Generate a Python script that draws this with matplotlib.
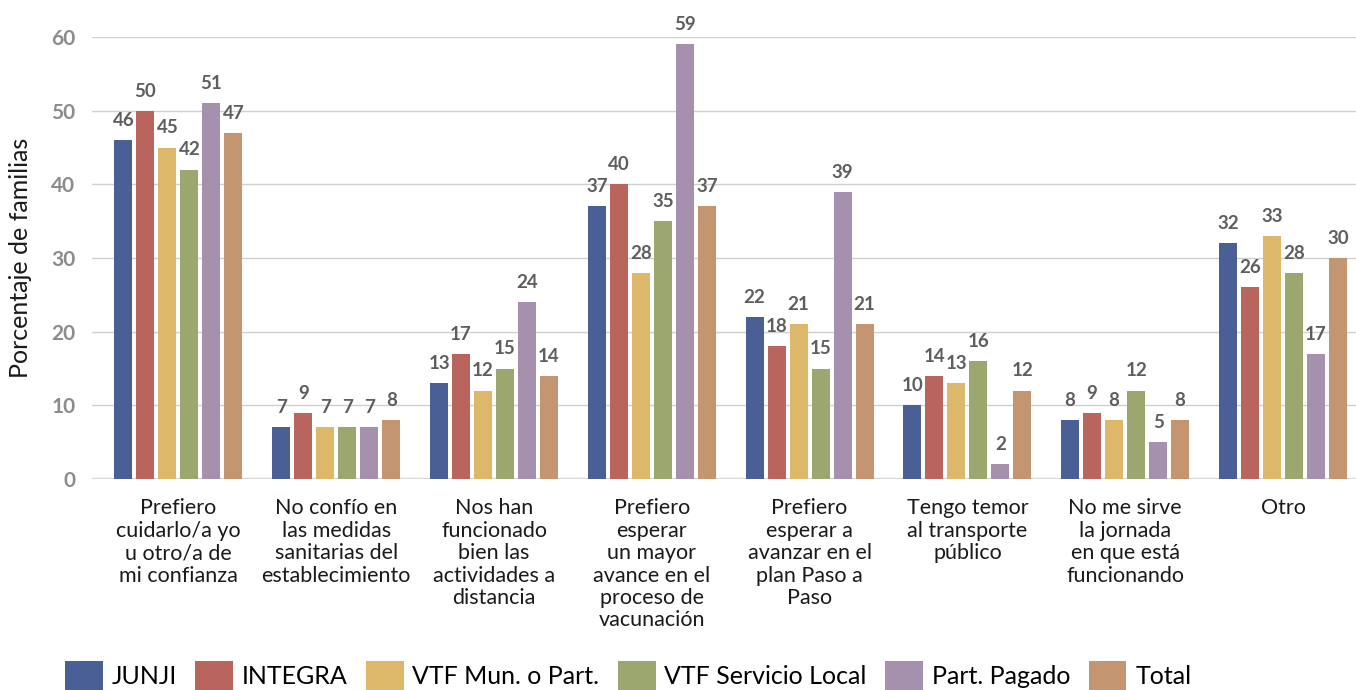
import numpy as np
import matplotlib
matplotlib.use("Agg")
import matplotlib.pyplot as plt
from matplotlib.patches import Patch

plt.rcParams['font.family'] = ['Lato', 'DejaVu Sans']

# ===== datos =====
categories = [
    "Prefiero\ncuidarlo/a yo\nu otro/a de\nmi confianza",
    "No confío en\nlas medidas\nsanitarias del\nestablecimiento",
    "Nos han\nfuncionado\nbien las\nactividades a\ndistancia",
    "Prefiero\nesperar\nun mayor\navance en el\nproceso de\nvacunación",
    "Prefiero\nesperar a\navanzar en el\nplan Paso a\nPaso",
    "Tengo temor\nal transporte\npúblico",
    "No me sirve\nla jornada\nen que está\nfuncionando",
    "Otro",
]
series_names = ["JUNJI", "INTEGRA", "VTF Mun. o Part.", "VTF Servicio Local",
                "Part. Pagado", "Total"]
junji = [46, 7, 13, 37, 22, 10, 8, 32]
integra = [50, 9, 17, 40, 18, 14, 9, 26]
vtf_mun = [45, 7, 12, 28, 21, 13, 8, 33]
vtf_local = [42, 7, 15, 35, 15, 16, 12, 28]
part_pagado = [51, 7, 24, 59, 39, 2, 5, 17]
total = [47, 8, 14, 37, 21, 12, 8, 30]
series = [junji, integra, vtf_mun, vtf_local, part_pagado, total]
colors = ["#4b5f97", "#b9645d", "#ddb86b", "#9ca66f", "#a590ad", "#c39571"]

# ===== figura =====
fig = plt.figure(figsize=(13.56, 6.9), dpi=100)
ax = fig.add_axes([92 / 1356, 211 / 690, 1 - 92 / 1356, 442 / 690])

x = np.arange(len(categories))
slot = 0.1394
width = 0.114
for i, (vals, c) in enumerate(zip(series, colors)):
    pos = x + (i - 2.5) * slot
    ax.bar(pos, vals, width=width, color=c, zorder=3)
    for p, v in zip(pos, vals):
        ax.annotate(str(v), (p, v), xytext=(0, 8), textcoords="offset points",
                    ha="center", va="bottom", fontsize=13.5, fontweight="bold",
                    color="#5e5e5e", clip_on=False)

ax.set_xlim(-0.548, 7.463)
ax.set_ylim(0, 60)
ax.set_yticks(range(0, 61, 10))
ax.tick_params(axis="y", length=0, pad=12, labelsize=15, labelcolor="#8c8c8c")
for lbl in ax.get_yticklabels():
    lbl.set_fontweight("bold")
ax.set_xticks(x)
ax.set_xticklabels(categories, fontsize=15.5, color="#1a1a1a", linespacing=1.15)
ax.tick_params(axis="x", length=0, pad=14)
ax.grid(axis="y", color="#d0d0d0", linewidth=1, zorder=0)
for s in ax.spines.values():
    s.set_visible(False)
ax.axhline(0, color="#d9d9d9", linewidth=2.5, zorder=2)
ax.set_ylabel("Porcentaje de familias", fontsize=18, color="#1a1a1a", labelpad=14)

handles = [Patch(facecolor=c, edgecolor="none") for c in colors]
fig.legend(handles, series_names, loc="center left", bbox_to_anchor=(65 / 1356, 14 / 690),
           ncol=6, frameon=False, handlelength=1.5, handleheight=1.5,
           handletextpad=0.35, columnspacing=0.75, borderpad=0, borderaxespad=0,
           prop={"family": ["Lato", "DejaVu Sans"], "size": 18})

fig.savefig("out.png", dpi=100)
